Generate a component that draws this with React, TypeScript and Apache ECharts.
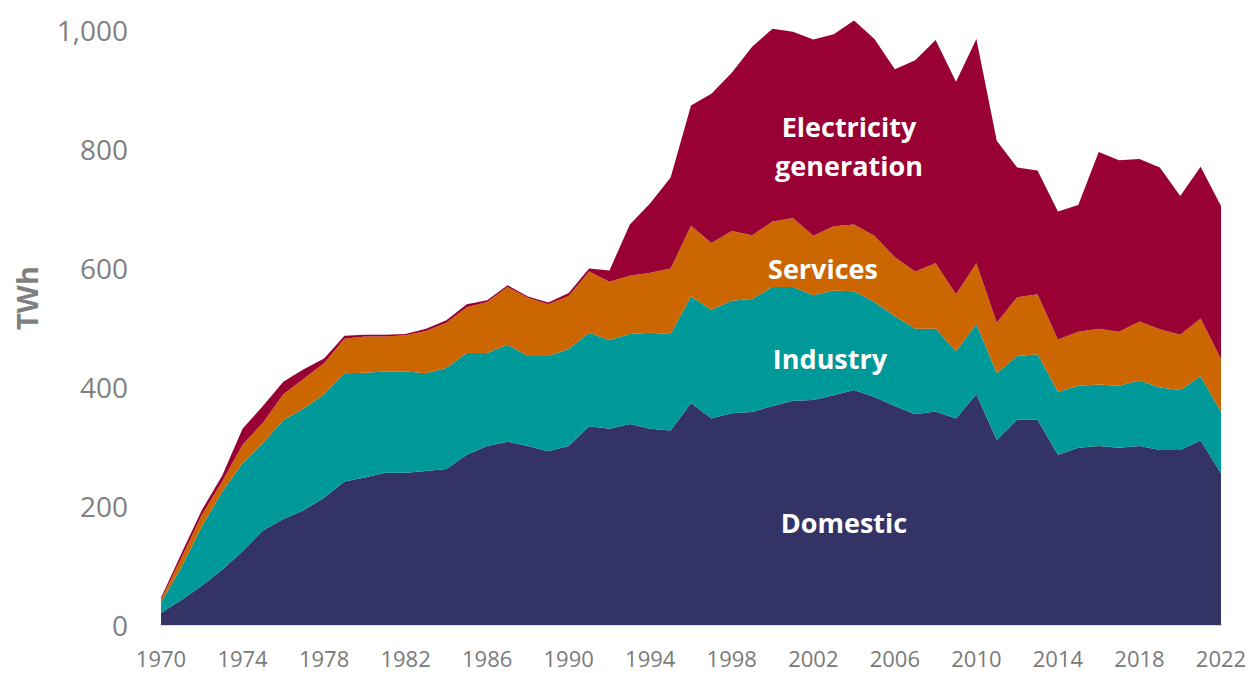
import React, { useEffect, useRef } from "react";
import * as echarts from "echarts";

const years: string[] = [];
for (let y = 1970; y <= 2022; y++) years.push(String(y));

const seriesNames = ["Domestic", "Industry", "Services", "Electricity generation"];

const domestic = [20, 42, 66, 93, 124, 159, 178, 193, 214, 241, 248, 256, 256, 259, 262, 286, 301, 308, 301, 292, 301, 334, 330, 338, 330, 327, 373, 347, 356, 358, 368, 377, 378, 386, 395, 383, 368, 354, 359, 347, 388, 311, 345, 345, 286, 298, 301, 298, 301, 294, 294, 310, 255];
const industry = [18, 55, 99, 131, 148, 147, 166, 171, 174, 182, 176, 170, 170, 164, 170, 171, 156, 163, 151, 160, 163, 157, 149, 151, 161, 162, 179, 183, 189, 190, 200, 191, 176, 176, 166, 160, 151, 144, 139, 113, 118, 112, 107, 110, 106, 104, 103, 104, 110, 105, 101, 108, 103];
const services = [5, 16, 20, 17, 31, 34, 44, 50, 52, 58, 61, 59, 61, 71, 76, 77, 86, 97, 98, 87, 89, 103, 98, 98, 101, 110, 119, 112, 117, 107, 110, 116, 100, 108, 112, 111, 99, 96, 110, 96, 102, 85, 99, 101, 88, 91, 94, 91, 99, 98, 93, 97, 89];
const electricity = [3, 7, 8, 10, 27, 28, 21, 16, 8, 5, 3, 3, 2, 4, 4, 5, 3, 3, 2, 3, 5, 5, 19, 86, 117, 153, 202, 251, 266, 317, 324, 313, 330, 323, 343, 331, 316, 355, 375, 357, 377, 306, 218, 208, 215, 213, 297, 288, 273, 272, 233, 255, 257];

const colors = ["#333366", "#009999", "#CC6600", "#990033"];
const yTicks = [0, 200, 400, 600, 800, 1000];

export default function App() {
  const ref = useRef<HTMLDivElement>(null);
  useEffect(() => {
    if (!ref.current) return;
    const chart = echarts.init(ref.current, undefined, { renderer: "svg" });
    const values = [domestic, industry, services, electricity];
    const labelFont = "'Open Sans', 'Noto Sans', sans-serif";
    const textStyle = (x: number, y: number, text: string) => ({
      type: "text",
      x,
      y,
      style: {
        text,
        fill: "#ffffff",
        font: `bold 27px ${labelFont}`,
        textAlign: "center",
        textVerticalAlign: "middle",
        lineHeight: 39,
      },
      z: 100,
    });
    chart.setOption({
      animation: false,
      backgroundColor: "#ffffff",
      grid: { left: 161, right: 29, top: 30, bottom: 48, containLabel: false },
      xAxis: {
        type: "category",
        data: years,
        boundaryGap: false,
        axisTick: { show: false },
        axisLine: { show: true, lineStyle: { color: "#d9d9d9", width: 2 } },
        axisLabel: {
          interval: 3,
          color: "#7a7a7a",
          fontSize: 22,
          lineHeight: 22,
          fontFamily: labelFont,
          margin: 22,
        },
        splitLine: { show: false },
      },
      yAxis: {
        type: "value",
        min: 0,
        max: 1000,
        interval: 200,
        axisLine: { show: false },
        axisTick: { show: false },
        splitLine: { show: false },
        axisLabel: {
          color: "#808080",
          fontSize: 28,
          fontFamily: labelFont,
          margin: 33,
          formatter: (v: number) => (yTicks.includes(v) ? v.toLocaleString("en-US") : ""),
        },
      },
      series: seriesNames.map((name, i) => ({
        name,
        type: "line",
        stack: "total",
        data: values[i],
        symbol: "none",
        clip: false,
        lineStyle: { width: 0 },
        areaStyle: { color: colors[i], opacity: 1 },
        itemStyle: { color: colors[i] },
      })),
      graphic: [
        {
          type: "text",
          x: 26,
          y: 298,
          rotation: Math.PI / 2,
          style: {
            text: "TWh",
            fill: "#7f7f7f",
            font: `bold 29px ${labelFont}`,
            textAlign: "center",
            textVerticalAlign: "middle",
          },
        },
        textStyle(849, 146, "Electricity\ngeneration"),
        textStyle(823, 268, seriesNames[2]),
        textStyle(830, 358, seriesNames[1]),
        textStyle(844, 522, seriesNames[0]),
      ],
    });
    return () => chart.dispose();
  }, []);
  return (
    <div
      ref={ref}
      style={{ position: "fixed", left: 0, top: 0, width: 1250, height: 673 }}
    />
  );
}
